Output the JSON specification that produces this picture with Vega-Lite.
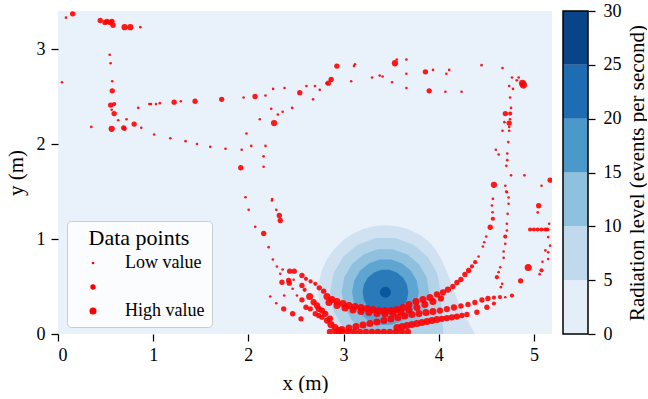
{
"$schema": "https://vega.github.io/schema/vega-lite/v6.json",
"padding": {"left": 5, "top": 2, "right": 0, "bottom": 0},
"background": "white",
"spacing": 10,
"resolve": {"scale": {"fill": "independent"}},
"config": {
  "font": "Liberation Serif",
  "axis": {"labelFont": "Liberation Serif", "titleFont": "Liberation Serif", "labelFontSize": 18, "titleFontSize": 21, "titleFontWeight": "normal", "labelColor": "black", "titleColor": "black", "tickColor": "black", "tickWidth": 1.25, "tickSize": 7, "domain": false, "grid": false},
  "legend": {"labelFont": "Liberation Serif", "titleFont": "Liberation Serif"}
},
"datasets": {
"contours": [
{"ring":"r1","i":0,"x":4.38,"y":0},{"ring":"r1","i":1,"x":4.30,"y":0.15},{"ring":"r1","i":2,"x":4.22,"y":0.30},{"ring":"r1","i":3,"x":4.16,"y":0.45},{"ring":"r1","i":4,"x":4.10,"y":0.62},{"ring":"r1","i":5,"x":4.03,"y":0.78},{"ring":"r1","i":6,"x":3.96,"y":0.90},{"ring":"r1","i":7,"x":3.89,"y":0.98},{"ring":"r1","i":8,"x":3.793,"y":1.051},{"ring":"r1","i":9,"x":3.681,"y":1.103},{"ring":"r1","i":10,"x":3.563,"y":1.134},{"ring":"r1","i":11,"x":3.44,"y":1.145},{"ring":"r1","i":12,"x":3.317,"y":1.134},{"ring":"r1","i":13,"x":3.199,"y":1.103},{"ring":"r1","i":14,"x":3.088,"y":1.051},{"ring":"r1","i":15,"x":2.987,"y":0.98},{"ring":"r1","i":16,"x":2.90,"y":0.893},{"ring":"r1","i":17,"x":2.829,"y":0.793},{"ring":"r1","i":18,"x":2.777,"y":0.681},{"ring":"r1","i":19,"x":2.746,"y":0.562},{"ring":"r1","i":20,"x":2.735,"y":0.44},{"ring":"r1","i":21,"x":2.746,"y":0.318},{"ring":"r1","i":22,"x":2.777,"y":0.199},{"ring":"r1","i":23,"x":2.829,"y":0.088},{"ring":"r1","i":24,"x":2.889,"y":0},
{"ring":"r2","i":0,"x":4.02,"y":0.44},{"ring":"r2","i":1,"x":3.985,"y":0.638},{"ring":"r2","i":2,"x":3.884,"y":0.813},{"ring":"r2","i":3,"x":3.73,"y":0.942},{"ring":"r2","i":4,"x":3.541,"y":1.011},{"ring":"r2","i":5,"x":3.339,"y":1.011},{"ring":"r2","i":6,"x":3.15,"y":0.942},{"ring":"r2","i":7,"x":2.996,"y":0.813},{"ring":"r2","i":8,"x":2.895,"y":0.638},{"ring":"r2","i":9,"x":2.86,"y":0.44},{"ring":"r2","i":10,"x":2.895,"y":0.242},{"ring":"r2","i":11,"x":2.996,"y":0.067},{"ring":"r2","i":12,"x":3.062,"y":0},{"ring":"r2","i":13,"x":4.05,"y":0},{"ring":"r2","i":14,"x":4.03,"y":0.25},
{"ring":"r3","i":0,"x":3.90,"y":0.44},{"ring":"r3","i":1,"x":3.872,"y":0.597},{"ring":"r3","i":2,"x":3.792,"y":0.736},{"ring":"r3","i":3,"x":3.67,"y":0.838},{"ring":"r3","i":4,"x":3.52,"y":0.893},{"ring":"r3","i":5,"x":3.36,"y":0.893},{"ring":"r3","i":6,"x":3.21,"y":0.838},{"ring":"r3","i":7,"x":3.088,"y":0.736},{"ring":"r3","i":8,"x":3.008,"y":0.597},{"ring":"r3","i":9,"x":2.98,"y":0.44},{"ring":"r3","i":10,"x":3.008,"y":0.283},{"ring":"r3","i":11,"x":3.088,"y":0.144},{"ring":"r3","i":12,"x":3.21,"y":0.042},{"ring":"r3","i":13,"x":3.36,"y":0},{"ring":"r3","i":14,"x":3.52,"y":0},{"ring":"r3","i":15,"x":3.67,"y":0.042},{"ring":"r3","i":16,"x":3.792,"y":0.144},{"ring":"r3","i":17,"x":3.872,"y":0.283},
{"ring":"r4","i":0,"x":3.79,"y":0.44},{"ring":"r4","i":1,"x":3.769,"y":0.56},{"ring":"r4","i":2,"x":3.708,"y":0.665},{"ring":"r4","i":3,"x":3.615,"y":0.743},{"ring":"r4","i":4,"x":3.501,"y":0.785},{"ring":"r4","i":5,"x":3.379,"y":0.785},{"ring":"r4","i":6,"x":3.265,"y":0.743},{"ring":"r4","i":7,"x":3.172,"y":0.665},{"ring":"r4","i":8,"x":3.111,"y":0.56},{"ring":"r4","i":9,"x":3.09,"y":0.44},{"ring":"r4","i":10,"x":3.111,"y":0.32},{"ring":"r4","i":11,"x":3.172,"y":0.215},{"ring":"r4","i":12,"x":3.265,"y":0.137},{"ring":"r4","i":13,"x":3.379,"y":0.095},{"ring":"r4","i":14,"x":3.501,"y":0.095},{"ring":"r4","i":15,"x":3.615,"y":0.137},{"ring":"r4","i":16,"x":3.708,"y":0.215},{"ring":"r4","i":17,"x":3.769,"y":0.32},
{"ring":"r5","i":0,"x":3.68,"y":0.44},{"ring":"r5","i":1,"x":3.666,"y":0.522},{"ring":"r5","i":2,"x":3.624,"y":0.594},{"ring":"r5","i":3,"x":3.56,"y":0.648},{"ring":"r5","i":4,"x":3.482,"y":0.676},{"ring":"r5","i":5,"x":3.398,"y":0.676},{"ring":"r5","i":6,"x":3.32,"y":0.648},{"ring":"r5","i":7,"x":3.256,"y":0.594},{"ring":"r5","i":8,"x":3.214,"y":0.522},{"ring":"r5","i":9,"x":3.20,"y":0.44},{"ring":"r5","i":10,"x":3.214,"y":0.358},{"ring":"r5","i":11,"x":3.256,"y":0.286},{"ring":"r5","i":12,"x":3.32,"y":0.232},{"ring":"r5","i":13,"x":3.398,"y":0.204},{"ring":"r5","i":14,"x":3.482,"y":0.204},{"ring":"r5","i":15,"x":3.56,"y":0.232},{"ring":"r5","i":16,"x":3.624,"y":0.286},{"ring":"r5","i":17,"x":3.666,"y":0.358},
{"ring":"r6","i":0,"x":3.498,"y":0.44},{"ring":"r6","i":1,"x":3.49,"y":0.469},{"ring":"r6","i":2,"x":3.469,"y":0.49},{"ring":"r6","i":3,"x":3.44,"y":0.498},{"ring":"r6","i":4,"x":3.411,"y":0.49},{"ring":"r6","i":5,"x":3.39,"y":0.469},{"ring":"r6","i":6,"x":3.382,"y":0.44},{"ring":"r6","i":7,"x":3.39,"y":0.411},{"ring":"r6","i":8,"x":3.411,"y":0.39},{"ring":"r6","i":9,"x":3.44,"y":0.382},{"ring":"r6","i":10,"x":3.469,"y":0.39},{"ring":"r6","i":11,"x":3.49,"y":0.411}
],
"points": [
{"x":0.084,"y":3.33,"v":1},{"x":0.154,"y":3.37,"v":2},{"x":0.444,"y":3.30,"v":2},{"x":0.494,"y":3.28,"v":2},{"x":0.515,"y":3.29,"v":2},{"x":0.546,"y":3.28,"v":2},{"x":0.567,"y":3.29,"v":2},{"x":0.578,"y":3.25,"v":2},{"x":0.70,"y":3.23,"v":2.5},{"x":0.76,"y":3.23,"v":2.5},{"x":0.865,"y":3.23,"v":1},
{"x":0.543,"y":2.94,"v":1},{"x":0.553,"y":2.85,"v":1},{"x":0.042,"y":2.65,"v":1},{"x":0.57,"y":2.66,"v":1},{"x":0.57,"y":2.56,"v":2},{"x":0.553,"y":2.41,"v":2},{"x":0.59,"y":2.42,"v":1.5},{"x":0.564,"y":2.36,"v":1},{"x":0.59,"y":2.32,"v":2},{"x":0.633,"y":2.25,"v":1},{"x":0.72,"y":2.26,"v":1},{"x":0.35,"y":2.18,"v":1},{"x":0.564,"y":2.16,"v":2.5},{"x":0.69,"y":2.17,"v":2},{"x":0.70,"y":2.16,"v":1.5},{"x":0.80,"y":2.21,"v":2},{"x":0.875,"y":2.17,"v":1},{"x":0.843,"y":2.38,"v":1},{"x":0.96,"y":2.42,"v":1},{"x":0.977,"y":2.42,"v":1},{"x":1.03,"y":2.42,"v":1},{"x":1.07,"y":2.43,"v":1},{"x":1.22,"y":2.44,"v":2},{"x":1.29,"y":2.45,"v":1},{"x":1.44,"y":2.45,"v":2},{"x":1.72,"y":2.47,"v":2},{"x":1.95,"y":2.49,"v":1},{"x":2.07,"y":2.50,"v":2},{"x":2.18,"y":2.51,"v":1},{"x":2.26,"y":2.58,"v":1},{"x":2.38,"y":2.59,"v":1},{"x":2.54,"y":2.54,"v":2},{"x":2.61,"y":2.61,"v":1},{"x":2.70,"y":2.61,"v":1},{"x":2.75,"y":2.57,"v":1},{"x":2.68,"y":2.47,"v":1},{"x":2.82,"y":2.64,"v":1},{"x":2.24,"y":2.37,"v":1},{"x":2.36,"y":2.34,"v":1},{"x":2.31,"y":2.31,"v":1},{"x":2.46,"y":2.38,"v":1},{"x":2.12,"y":2.26,"v":1},{"x":2.27,"y":2.22,"v":2.5},{"x":1.98,"y":2.11,"v":1},{"x":2.18,"y":1.98,"v":1},{"x":2.03,"y":1.98,"v":1},{"x":1.93,"y":1.94,"v":1},{"x":2.16,"y":1.87,"v":1},{"x":2.16,"y":1.76,"v":1},{"x":1.92,"y":1.75,"v":2},{"x":1.97,"y":1.44,"v":1},{"x":2.25,"y":1.42,"v":1},
{"x":1.01,"y":2.10,"v":1},{"x":1.18,"y":2.06,"v":1},{"x":1.34,"y":2.03,"v":1},{"x":1.46,"y":2.00,"v":1},{"x":1.60,"y":1.97,"v":1},{"x":1.76,"y":1.95,"v":1},
{"x":2.84,"y":2.64,"v":2},{"x":2.87,"y":2.68,"v":2},{"x":2.93,"y":2.82,"v":2},{"x":3.08,"y":2.66,"v":1},{"x":3.11,"y":2.82,"v":1},{"x":3.12,"y":2.84,"v":1},{"x":3.30,"y":2.70,"v":1},{"x":3.38,"y":2.72,"v":1},{"x":3.41,"y":2.71,"v":1},{"x":3.51,"y":2.65,"v":1},{"x":3.54,"y":2.85,"v":2.5},{"x":3.56,"y":2.89,"v":1},{"x":3.66,"y":2.89,"v":1},{"x":3.66,"y":2.74,"v":1},{"x":3.66,"y":2.59,"v":1},{"x":3.86,"y":2.76,"v":2},{"x":3.94,"y":2.78,"v":1},{"x":3.90,"y":2.56,"v":2},{"x":4.07,"y":2.55,"v":1},{"x":4.08,"y":2.74,"v":1},{"x":4.11,"y":2.78,"v":1},{"x":4.24,"y":2.55,"v":1},{"x":4.45,"y":2.83,"v":1},{"x":4.67,"y":2.80,"v":1},{"x":4.77,"y":2.70,"v":1},{"x":4.84,"y":2.70,"v":1},{"x":4.82,"y":2.67,"v":1},{"x":4.74,"y":2.61,"v":1},{"x":4.78,"y":2.58,"v":1},{"x":4.88,"y":2.64,"v":3},{"x":4.89,"y":2.62,"v":3},{"x":4.75,"y":2.49,"v":1},{"x":4.76,"y":2.38,"v":1},{"x":4.75,"y":2.32,"v":1.5},{"x":4.70,"y":2.32,"v":2},{"x":4.75,"y":2.26,"v":1},{"x":4.74,"y":2.22,"v":2},{"x":4.69,"y":2.23,"v":1},{"x":4.74,"y":2.18,"v":1},{"x":4.74,"y":2.14,"v":1},{"x":4.67,"y":2.14,"v":1},{"x":4.73,"y":2.02,"v":1},{"x":4.60,"y":1.94,"v":1},{"x":4.63,"y":1.89,"v":1},{"x":4.72,"y":1.90,"v":1},{"x":4.72,"y":1.83,"v":1},{"x":4.71,"y":1.77,"v":1},{"x":4.76,"y":1.67,"v":1},{"x":4.90,"y":1.67,"v":1},{"x":4.58,"y":1.57,"v":2.5},{"x":4.70,"y":1.56,"v":1},{"x":4.71,"y":1.50,"v":1},{"x":5.08,"y":1.56,"v":1},{"x":5.17,"y":1.62,"v":2},
{"x":4.716,"y":1.493,"v":1},{"x":4.734,"y":1.437,"v":1},{"x":4.734,"y":1.371,"v":1},{"x":4.724,"y":1.265,"v":1},{"x":4.716,"y":1.16,"v":1},{"x":4.716,"y":1.089,"v":1},{"x":4.699,"y":1.026,"v":1.5},{"x":4.699,"y":0.949,"v":1},{"x":4.682,"y":0.868,"v":1},{"x":4.682,"y":0.802,"v":1},{"x":4.646,"y":0.703,"v":1},{"x":4.629,"y":0.651,"v":1},{"x":4.611,"y":0.598,"v":1.5},{"x":4.667,"y":0.528,"v":1},{"x":4.653,"y":0.493,"v":1},
{"x":2.258,"y":0.784,"v":1},{"x":2.30,"y":0.711,"v":1},{"x":2.36,"y":0.679,"v":1},{"x":2.434,"y":0.661,"v":2},{"x":2.482,"y":0.661,"v":2},{"x":2.563,"y":0.616,"v":2},{"x":2.605,"y":0.581,"v":1.5},{"x":2.654,"y":0.553,"v":1.5},{"x":2.703,"y":0.528,"v":1.5},{"x":2.745,"y":0.486,"v":2},{"x":2.791,"y":0.451,"v":2},{"x":2.826,"y":0.395,"v":3},{"x":2.878,"y":0.363,"v":3},{"x":2.931,"y":0.342,"v":3},{"x":2.994,"y":0.321,"v":3},{"x":3.057,"y":0.30,"v":3},{"x":3.12,"y":0.289,"v":3},{"x":3.183,"y":0.279,"v":3},{"x":3.246,"y":0.268,"v":3},{"x":3.309,"y":0.258,"v":3},{"x":3.372,"y":0.247,"v":3},{"x":3.435,"y":0.247,"v":3},{"x":3.498,"y":0.247,"v":3},{"x":3.561,"y":0.258,"v":3},{"x":3.624,"y":0.279,"v":3},{"x":3.687,"y":0.311,"v":3},{"x":3.761,"y":0.342,"v":3},{"x":3.834,"y":0.363,"v":3},{"x":3.908,"y":0.384,"v":3},{"x":3.981,"y":0.416,"v":2.5},{"x":4.044,"y":0.437,"v":2.5},{"x":4.097,"y":0.468,"v":2.5},{"x":4.149,"y":0.50,"v":2},{"x":4.191,"y":0.542,"v":2},{"x":4.233,"y":0.574,"v":2},{"x":4.275,"y":0.626,"v":2},{"x":4.314,"y":0.668,"v":2},{"x":4.349,"y":0.711,"v":1.5},{"x":4.383,"y":0.756,"v":1.5},{"x":4.419,"y":0.816,"v":1},{"x":4.464,"y":0.921,"v":1},{"x":4.478,"y":0.966,"v":1},{"x":4.499,"y":1.026,"v":1},{"x":4.541,"y":1.124,"v":2},{"x":4.569,"y":1.213,"v":1.5},{"x":4.566,"y":1.282,"v":1},{"x":4.559,"y":1.353,"v":1},{"x":4.569,"y":1.423,"v":1},
{"x":2.847,"y":0.332,"v":3},{"x":2.931,"y":0.30,"v":3},{"x":3.015,"y":0.274,"v":3},{"x":3.099,"y":0.253,"v":3},{"x":3.183,"y":0.237,"v":3},{"x":3.267,"y":0.226,"v":3},{"x":3.351,"y":0.216,"v":3},{"x":3.435,"y":0.211,"v":3},{"x":3.519,"y":0.216,"v":3},{"x":3.603,"y":0.232,"v":3},{"x":3.687,"y":0.253,"v":3},{"x":3.771,"y":0.279,"v":3},{"x":3.855,"y":0.311,"v":3},{"x":3.939,"y":0.342,"v":3},{"x":4.023,"y":0.374,"v":2.5},
{"x":2.983,"y":0.047,"v":3},{"x":3.057,"y":0.063,"v":3},{"x":3.13,"y":0.079,"v":3},{"x":3.204,"y":0.095,"v":3},{"x":3.277,"y":0.111,"v":3},{"x":3.351,"y":0.126,"v":3},{"x":3.424,"y":0.142,"v":3},{"x":3.498,"y":0.158,"v":3},{"x":3.571,"y":0.174,"v":3},{"x":3.645,"y":0.189,"v":3},{"x":3.718,"y":0.205,"v":3},{"x":3.792,"y":0.216,"v":3},{"x":3.866,"y":0.226,"v":3},{"x":3.939,"y":0.237,"v":3},{"x":4.013,"y":0.247,"v":2.5},{"x":4.086,"y":0.263,"v":2.5},{"x":4.16,"y":0.279,"v":2.5},{"x":4.233,"y":0.295,"v":2},{"x":4.307,"y":0.311,"v":2},{"x":4.38,"y":0.332,"v":2},{"x":4.454,"y":0.358,"v":2},{"x":4.517,"y":0.374,"v":2},{"x":4.58,"y":0.384,"v":1.5},{"x":4.643,"y":0.389,"v":1.5},{"x":4.699,"y":0.387,"v":1},{"x":4.769,"y":0.405,"v":1.5},
{"x":3.561,"y":0.068,"v":3},{"x":3.614,"y":0.078,"v":3},{"x":3.666,"y":0.089,"v":3},{"x":3.718,"y":0.10,"v":3},{"x":3.771,"y":0.111,"v":3},{"x":3.823,"y":0.121,"v":3},{"x":3.876,"y":0.132,"v":3},{"x":3.928,"y":0.142,"v":3},{"x":3.981,"y":0.153,"v":3},{"x":4.034,"y":0.16,"v":2.5},{"x":4.086,"y":0.168,"v":2.5},{"x":4.139,"y":0.176,"v":2.5},{"x":4.191,"y":0.184,"v":2.5},{"x":4.244,"y":0.195,"v":2},{"x":4.296,"y":0.205,"v":2},{"x":4.401,"y":0.229,"v":2},{"x":4.506,"y":0.282,"v":2},{"x":4.58,"y":0.321,"v":1.5},
{"x":2.857,"y":0.021,"v":2.5},{"x":2.92,"y":0.021,"v":2.5},{"x":2.983,"y":0.021,"v":2.5},{"x":3.046,"y":0.021,"v":2.5},{"x":3.109,"y":0.021,"v":2.5},{"x":3.172,"y":0.021,"v":2.5},{"x":3.235,"y":0.021,"v":2.5},{"x":3.298,"y":0.021,"v":2.5},{"x":3.361,"y":0.021,"v":2.5},{"x":3.424,"y":0.021,"v":2.5},{"x":3.487,"y":0.021,"v":2.5},{"x":3.55,"y":0.021,"v":2.5},{"x":3.613,"y":0.021,"v":2.5},{"x":3.676,"y":0.021,"v":2.5},
{"x":2.563,"y":0.36,"v":2},{"x":2.605,"y":0.282,"v":2},{"x":2.65,"y":0.265,"v":2},{"x":2.686,"y":0.335,"v":2.5},{"x":2.721,"y":0.30,"v":2.5},{"x":2.738,"y":0.265,"v":2.5},{"x":2.773,"y":0.247,"v":2.5},{"x":2.808,"y":0.213,"v":2.5},{"x":2.703,"y":0.213,"v":2},{"x":2.738,"y":0.195,"v":2},{"x":2.773,"y":0.177,"v":2},{"x":2.826,"y":0.142,"v":2.5},{"x":2.868,"y":0.10,"v":3},{"x":2.91,"y":0.068,"v":3},{"x":2.952,"y":0.037,"v":3},{"x":2.857,"y":0.163,"v":2.5},
{"x":2.23,"y":0.395,"v":1},{"x":2.293,"y":0.324,"v":1},{"x":2.377,"y":0.405,"v":1},{"x":2.511,"y":0.405,"v":1},{"x":2.371,"y":0.265,"v":2},{"x":2.465,"y":0.213,"v":2},{"x":2.553,"y":0.16,"v":2},{"x":2.644,"y":0.395,"v":3},{"x":2.353,"y":0.545,"v":2},{"x":2.423,"y":0.563,"v":2},{"x":2.43,"y":0.535,"v":2},{"x":2.476,"y":0.571,"v":1},{"x":2.563,"y":0.511,"v":2},{"x":2.591,"y":0.465,"v":1.5},{"x":2.465,"y":0.476,"v":1},{"x":2.335,"y":0.634,"v":1},{"x":2.003,"y":1.307,"v":1},{"x":2.248,"y":1.405,"v":1},{"x":2.293,"y":1.307,"v":1},{"x":2.325,"y":1.247,"v":2},{"x":2.335,"y":1.195,"v":2},{"x":2.072,"y":1.128,"v":1},{"x":2.161,"y":1.058,"v":2},{"x":2.213,"y":0.914,"v":1},
{"x":4.96,"y":1.10,"v":1.5},{"x":5.00,"y":1.10,"v":1.5},{"x":5.04,"y":1.10,"v":1.5},{"x":5.08,"y":1.10,"v":1.5},{"x":5.12,"y":1.10,"v":1.5},{"x":5.14,"y":1.10,"v":1.5},{"x":5.16,"y":1.16,"v":1},{"x":5.15,"y":1.02,"v":1},{"x":5.17,"y":0.93,"v":1},{"x":5.15,"y":0.86,"v":1},{"x":5.12,"y":0.88,"v":1},{"x":5.15,"y":0.79,"v":1},{"x":5.09,"y":0.76,"v":1},{"x":5.08,"y":0.67,"v":1.5},{"x":5.06,"y":0.63,"v":1},{"x":4.94,"y":0.70,"v":3},{"x":4.86,"y":0.56,"v":2},{"x":5.05,"y":1.35,"v":2},{"x":5.04,"y":1.28,"v":1}
],
"bar": [
{"lo":0,"hi":5,"c":"b1"},{"lo":5,"hi":10,"c":"b2"},{"lo":10,"hi":15,"c":"b3"},{"lo":15,"hi":20,"c":"b4"},{"lo":20,"hi":25,"c":"b5"},{"lo":25,"hi":30,"c":"b6"}
]
},
"hconcat": [
{
"width": 494, "height": 323,
"view": {"fill": "#e9f1fa", "stroke": null},
"layer": [
{
"data": {"name": "contours"},
"mark": {"type": "line", "strokeWidth": 0, "clip": true, "interpolate": "linear-closed", "opacity": 1},
"encoding": {
"x": {"field": "x", "type": "quantitative", "scale": {"domain": [0, 5.19], "nice": false, "zero": false}, "axis": {"values": [0,1,2,3,4,5], "format": "d", "title": "x (m)", "labelPadding": 5, "titlePadding": 8, "labelAngle": 0}},
"y": {"field": "y", "type": "quantitative", "scale": {"domain": [0, 3.4], "nice": false, "zero": false}, "axis": {"values": [0,1,2,3], "format": "d", "title": "y (m)", "labelPadding": 6, "titlePadding": 10}},
"fill": {"field": "ring", "type": "nominal", "scale": {"domain": ["r1","r2","r3","r4","r5","r6"], "range": ["#d0e1f2","#b3d3e8","#8fc1de","#5fa5d1","#2a7ab9","#0b559f"]}, "legend": null},
"order": {"field": "i", "type": "quantitative"}
}
},
{
"data": {"name": "points"},
"mark": {"type": "circle", "color": "#ff0000", "opacity": 0.9, "clip": true},
"encoding": {
"x": {"field": "x", "type": "quantitative"},
"y": {"field": "y", "type": "quantitative"},
"size": {"field": "v", "type": "quantitative", "scale": {"domain": [1, 3], "range": [7, 50]},
 "legend": {"orient": "none", "legendX": 9, "legendY": 210, "title": "Data points", "titleFontSize": 22, "titleFontWeight": "normal", "titleAnchor": "middle", "titleColor": "black", "titlePadding": 4, "labelFontSize": 18, "labelColor": "black", "values": [1, 2, 3], "labelExpr": "datum.value == 1 ? 'Low value' : datum.value == 3 ? 'High value' : ''", "fillColor": "rgba(255,255,255,0.8)", "strokeColor": "#cccccc", "cornerRadius": 4, "padding": 7, "rowPadding": 6, "symbolFillColor": "#ff0000", "symbolStrokeWidth": 0, "symbolOpacity": 1, "symbolType": "circle", "labelOffset": 23, "symbolOffset": 10}}
}
}
]
},
{
"width": 25, "height": 323,
"view": {"stroke": null},
"data": {"name": "bar"},
"layer": [
{
"mark": {"type": "rect", "opacity": 1},
"encoding": {
"y": {"field": "lo", "type": "quantitative", "scale": {"domain": [0, 30], "nice": false}, "axis": {"orient": "right", "values": [0,5,10,15,20,25,30], "format": "d", "title": "Radiation level (events per second)", "titleAngle": 270, "titleBaseline": "top", "labelPadding": 8, "titlePadding": 5}},
"y2": {"field": "hi"},
"fill": {"field": "c", "type": "nominal", "scale": {"domain": ["b1","b2","b3","b4","b5","b6"], "range": ["#e4eef9","#c1d9ed","#8dc1dd","#4b98ca","#1e6db2","#084488"]}, "legend": null}
}
},
{
"mark": {"type": "rect", "fill": null, "stroke": "black", "strokeWidth": 1.5},
"encoding": {
"y": {"aggregate": "min", "field": "lo", "type": "quantitative"},
"y2": {"aggregate": "max", "field": "hi"}
}
}
]
}
]
}
